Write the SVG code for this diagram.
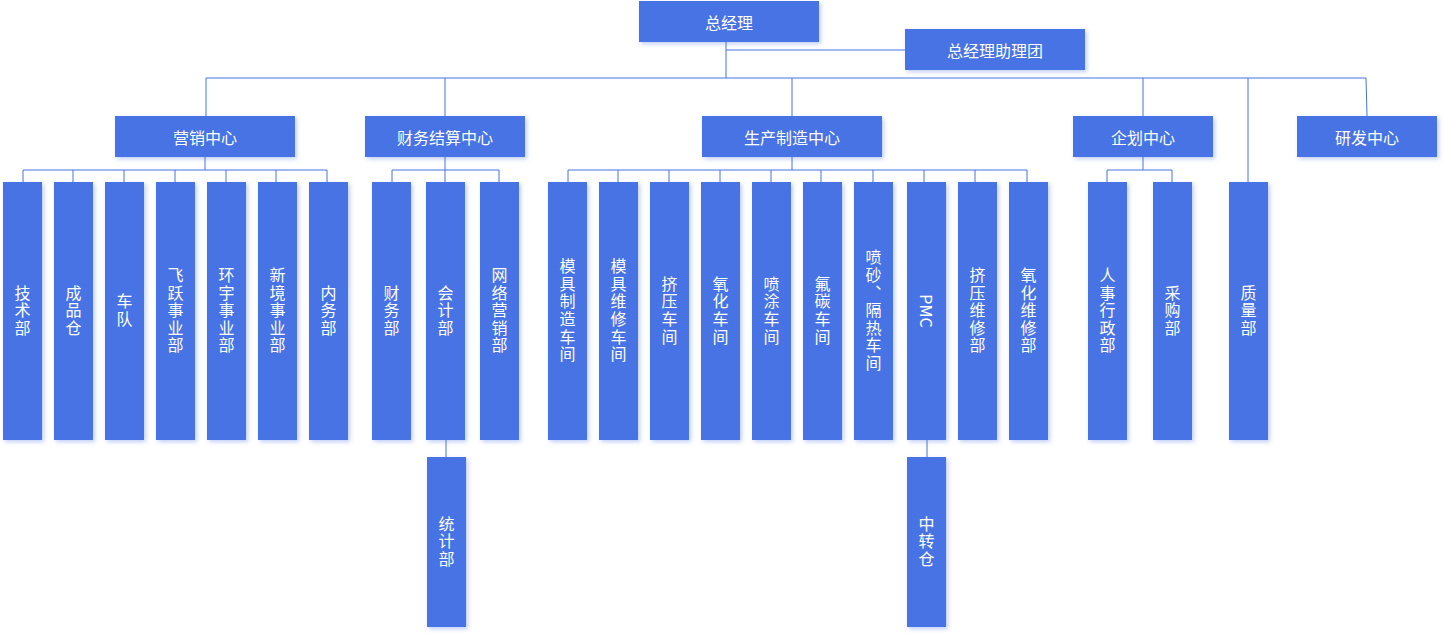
<svg xmlns="http://www.w3.org/2000/svg" width="1444" height="636" viewBox="0 0 1444 636">
<defs>
<filter id="sh" x="-30%" y="-10%" width="160%" height="130%">
<feDropShadow dx="2" dy="2" stdDeviation="2" flood-color="#4673E4" flood-opacity="0.35"/>
</filter>
<style>
.b{fill:#4673E4;filter:url(#sh)}
.t{fill:#fff;font-family:"Noto Sans CJK SC","Noto Sans",sans-serif;font-size:16px;text-anchor:middle;dominant-baseline:central}
.v{fill:#fff;font-family:"Noto Sans CJK SC","Noto Sans",sans-serif;font-size:16px;text-anchor:middle;writing-mode:vertical-rl;letter-spacing:1.6px}
.c{fill:none;stroke:#4673E4;stroke-width:1}
</style>
</defs>
<rect width="1444" height="636" fill="#fff"/>
<g id="connectors" class="c">
<path d="M726 42V78M726 50H905M206 78H1366M206 78V116M445 78V116M792 78V116M1143 78V116M1248 78V182M1366 78L1367 116"/>
<path d="M205 157V170M23 170H327M23 170V182M73 170V182M124 170V182M175 170V182M226 170V182M276 170V182M327 170V182"/>
<path d="M445 157V170M392 170H499M392 170V182M445 170V182M499 170V182"/>
<path d="M792 157V170M568 170H1027M568 170V182M618 170V182M669 170V182M720 170V182M771 170V182M821 170V182M873 170V182M924 170V182M975 170V182M1027 170V182"/>
<path d="M1143 157V170M1107 170H1172M1107 170V182M1172 170V182"/>
<path d="M446 440V457M927 440V457"/>
</g>
<g id="n-zjl"><rect class="b" x="639" y="1" width="180" height="41"/><text class="t" x="729" y="21.5">总经理</text></g>
<g id="n-zlt"><rect class="b" x="905" y="29" width="180" height="41"/><text class="t" x="995" y="49.5">总经理助理团</text></g>
<g id="n-yx"><rect class="b" x="115" y="116" width="180" height="41"/><text class="t" x="205" y="136.5">营销中心</text></g>
<g id="n-cw"><rect class="b" x="365" y="116" width="160" height="41"/><text class="t" x="445" y="136.5">财务结算中心</text></g>
<g id="n-sc"><rect class="b" x="702" y="116" width="180" height="41"/><text class="t" x="792" y="136.5">生产制造中心</text></g>
<g id="n-qh"><rect class="b" x="1073" y="116" width="140" height="41"/><text class="t" x="1143" y="136.5">企划中心</text></g>
<g id="n-yf"><rect class="b" x="1297" y="116" width="140" height="41"/><text class="t" x="1367" y="136.5">研发中心</text></g>

<g id="n-js"><rect class="b" x="3" y="182" width="39" height="258"/><text class="v" x="22.5" y="311">技术部</text></g>
<g id="n-cpc"><rect class="b" x="54" y="182" width="39" height="258"/><text class="v" x="73.5" y="311">成品仓</text></g>
<g id="n-cd"><rect class="b" x="105" y="182" width="39" height="258"/><text class="v" x="124.5" y="311">车队</text></g>
<g id="n-fy"><rect class="b" x="156" y="182" width="39" height="258"/><text class="v" x="175.5" y="311">飞跃事业部</text></g>
<g id="n-hy"><rect class="b" x="207" y="182" width="39" height="258"/><text class="v" x="226.5" y="311">环宇事业部</text></g>
<g id="n-xj"><rect class="b" x="258" y="182" width="39" height="258"/><text class="v" x="277.5" y="311">新境事业部</text></g>
<g id="n-nw"><rect class="b" x="309" y="182" width="39" height="258"/><text class="v" x="328.5" y="311">内务部</text></g>

<g id="n-cwb"><rect class="b" x="372" y="182" width="39" height="258"/><text class="v" x="391.5" y="311">财务部</text></g>
<g id="n-kj"><rect class="b" x="426" y="182" width="39" height="258"/><text class="v" x="445.5" y="311">会计部</text></g>
<g id="n-wl"><rect class="b" x="480" y="182" width="39" height="258"/><text class="v" x="499.5" y="311">网络营销部</text></g>
<g id="n-tj"><rect class="b" x="427" y="457" width="39" height="170"/><text class="v" x="446.5" y="542">统计部</text></g>

<g id="n-mjzz"><rect class="b" x="548" y="182" width="39" height="258"/><text class="v" x="567.5" y="311">模具制造车间</text></g>
<g id="n-mjwx"><rect class="b" x="599" y="182" width="39" height="258"/><text class="v" x="618.5" y="311">模具维修车间</text></g>
<g id="n-jy"><rect class="b" x="650" y="182" width="39" height="258"/><text class="v" x="669.5" y="311">挤压车间</text></g>
<g id="n-yh"><rect class="b" x="701" y="182" width="39" height="258"/><text class="v" x="720.5" y="311">氧化车间</text></g>
<g id="n-pt"><rect class="b" x="752" y="182" width="39" height="258"/><text class="v" x="771.5" y="311">喷涂车间</text></g>
<g id="n-ft"><rect class="b" x="803" y="182" width="39" height="258"/><text class="v" x="822.5" y="311">氟碳车间</text></g>
<g id="n-ps"><rect class="b" x="854" y="182" width="39" height="258"/><text class="v" x="873.5" y="311" style="font-feature-settings:'vert' 0">喷砂、隔热车间</text></g>
<g id="n-pmc"><rect class="b" x="907" y="182" width="39" height="258"/><text class="t" transform="translate(926.5 311) rotate(90)" x="0" y="0">PMC</text></g>
<g id="n-zzc"><rect class="b" x="907" y="457" width="39" height="170"/><text class="v" x="926.5" y="542">中转仓</text></g>
<g id="n-jywx"><rect class="b" x="958" y="182" width="39" height="258"/><text class="v" x="977.5" y="311">挤压维修部</text></g>
<g id="n-yhwx"><rect class="b" x="1009" y="182" width="39" height="258"/><text class="v" x="1028.5" y="311">氧化维修部</text></g>

<g id="n-rs"><rect class="b" x="1088" y="182" width="39" height="258"/><text class="v" x="1107.5" y="311">人事行政部</text></g>
<g id="n-cg"><rect class="b" x="1153" y="182" width="39" height="258"/><text class="v" x="1172.5" y="311">采购部</text></g>
<g id="n-zl"><rect class="b" x="1229" y="182" width="39" height="258"/><text class="v" x="1248.5" y="311">质量部</text></g>
</svg>
